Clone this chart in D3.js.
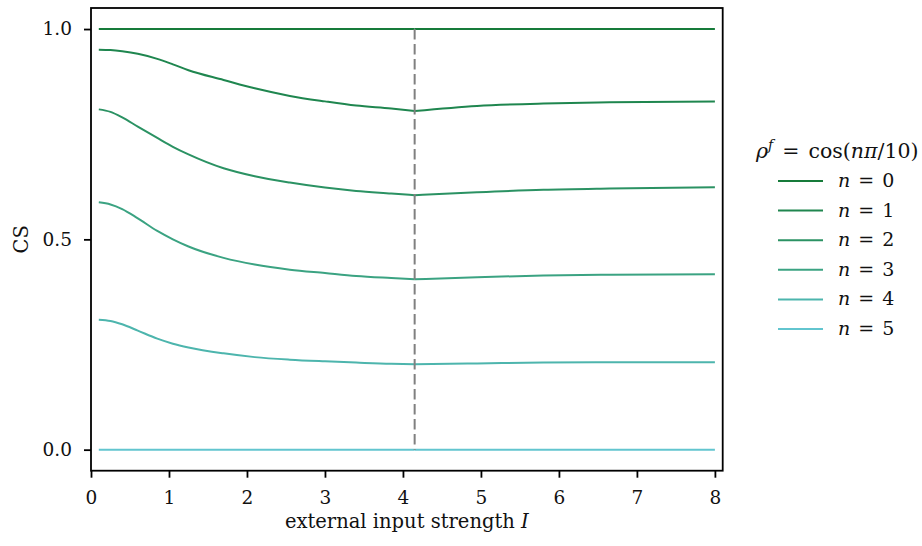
<!DOCTYPE html>
<html>
<head>
<meta charset="utf-8">
<script src="https://cdn.jsdelivr.net/npm/d3@7"></script>
<style>
  body { margin: 0; background: #fff; }
  svg { display: block; }
  text { font-family: "DejaVu Serif", serif; fill: #111; }
</style>
</head>
<body>
<svg id="chart" width="922" height="546"></svg>
<script>
// ---- data ----
const inputStrength = [0.1, 0.25, 0.4, 0.6, 0.85, 1.05, 1.25, 1.7, 2.1, 2.55, 3.0, 3.4, 3.85, 4.15, 4.95, 5.8, 6.65, 8.0];
const cs_n0 = [1, 1, 1, 1, 1, 1, 1, 1, 1, 1, 1, 1, 1, 1, 1, 1, 1, 1];
const cs_n1 = [0.951, 0.950, 0.947, 0.941, 0.929, 0.916, 0.902, 0.879, 0.859, 0.841, 0.828, 0.818, 0.811, 0.805, 0.817, 0.823, 0.826, 0.828];
const cs_n2 = [0.809, 0.803, 0.790, 0.768, 0.741, 0.720, 0.702, 0.669, 0.650, 0.635, 0.623, 0.615, 0.609, 0.605, 0.612, 0.618, 0.621, 0.624];
const cs_n3 = [0.588, 0.583, 0.572, 0.550, 0.520, 0.500, 0.483, 0.456, 0.440, 0.428, 0.420, 0.413, 0.408, 0.405, 0.410, 0.414, 0.416, 0.417];
const cs_n4 = [0.309, 0.306, 0.298, 0.283, 0.264, 0.252, 0.243, 0.229, 0.220, 0.214, 0.210, 0.207, 0.204, 0.203, 0.205, 0.207, 0.208, 0.208];
const cs_n5 = [0, 0, 0, 0, 0, 0, 0, 0, 0, 0, 0, 0, 0, 0, 0, 0, 0, 0];
const seriesN = [0, 1, 2, 3, 4, 5];
const seriesColors = ["#167b3a", "#1f864f", "#2b9263", "#3ba382", "#4db5ad", "#62c5cf"];
const markerI = 4.15;
const xTicks = [0, 1, 2, 3, 4, 5, 6, 7, 8];
const yTicks = [0.0, 0.5, 1.0];

const allSeries = [cs_n0, cs_n1, cs_n2, cs_n3, cs_n4, cs_n5];

// ---- layout ----
const svg = d3.select("#chart");
const L = 91, R = 722.7, T = 8, B = 470.7;
const x = d3.scaleLinear().domain([0, 8.1]).range([L, R]);
const y = d3.scaleLinear().domain([-0.05, 1.05]).range([B, T]);

// curves: split at the kink (minimum) index
const kink = inputStrength.indexOf(markerI);
const line = d3.line().x(d => x(d[0])).y(d => y(d[1])).curve(d3.curveMonotoneX);

const g = svg.append("g");
allSeries.forEach((vals, i) => {
  const pts = inputStrength.map((v, j) => [v, vals[j]]);
  const parts = [pts.slice(0, kink + 1), pts.slice(kink)];
  parts.forEach(p => {
    g.append("path")
      .attr("d", line(p))
      .attr("fill", "none")
      .attr("stroke", seriesColors[i])
      .attr("stroke-width", 2)
      .attr("stroke-linejoin", "round");
  });
});

// dashed marker
svg.append("line")
  .attr("x1", x(markerI)).attr("x2", x(markerI))
  .attr("y1", y(1)).attr("y2", y(0))
  .attr("stroke", "#808080")
  .attr("stroke-width", 2)
  .attr("stroke-dasharray", "10.5,4.5");

// frame
svg.append("rect")
  .attr("x", L).attr("y", T).attr("width", R - L).attr("height", B - T)
  .attr("fill", "none").attr("stroke", "#000").attr("stroke-width", 1.8);

// axes
const xAxis = d3.axisBottom(x).tickValues(xTicks).tickFormat(d3.format("d")).tickSize(7).tickPadding(13);
const gx = svg.append("g").attr("transform", `translate(0,${B})`).call(xAxis);
const yAxis = d3.axisLeft(y).tickValues(yTicks).tickFormat(d3.format(".1f")).tickSize(7).tickPadding(12);
const gy = svg.append("g").attr("transform", `translate(${L},0)`).call(yAxis);
[gx, gy].forEach(a => {
  a.select(".domain").remove();
  a.selectAll(".tick line").attr("stroke", "#000").attr("stroke-width", 1.8);
  a.selectAll(".tick text").attr("font-size", 18.5).attr("font-family", "DejaVu Serif, serif").attr("fill", "#222");
});

// axis labels
const xl = svg.append("text")
  .attr("x", (L + R) / 2).attr("y", 528)
  .attr("text-anchor", "middle").attr("font-size", 19.5);
xl.append("tspan").text("external input strength ");
xl.append("tspan").attr("font-style", "italic").text("I");

svg.append("text")
  .attr("transform", `translate(28,${(T + B) / 2}) rotate(-90)`)
  .attr("text-anchor", "middle").attr("font-size", 19.5)
  .text("CS");

// legend
const lg = svg.append("g");
const title = lg.append("text").attr("x", 756).attr("y", 158).attr("font-size", 20.5);
title.append("tspan").attr("font-style", "italic").text("ρ");
title.append("tspan").attr("font-style", "italic").attr("font-size", 14).attr("dy", -8).text("f");
title.append("tspan").attr("dy", 8).attr("dx", 9).text("=");
title.append("tspan").attr("dx", 9).text("cos(");
title.append("tspan").attr("font-style", "italic").text("nπ");
title.append("tspan").text("/10)");

seriesN.forEach((n, i) => {
  const yy = 181 + i * 29.6;
  lg.append("line")
    .attr("x1", 778).attr("x2", 823).attr("y1", yy).attr("y2", yy)
    .attr("stroke", seriesColors[i]).attr("stroke-width", 2);
  const t = lg.append("text").attr("x", 838).attr("y", yy + 6).attr("font-size", 19);
  t.append("tspan").attr("font-style", "italic").text("n");
  t.append("tspan").attr("dx", 8).text("=");
  t.append("tspan").attr("dx", 8).text(n);
});
</script>
</body>
</html>
